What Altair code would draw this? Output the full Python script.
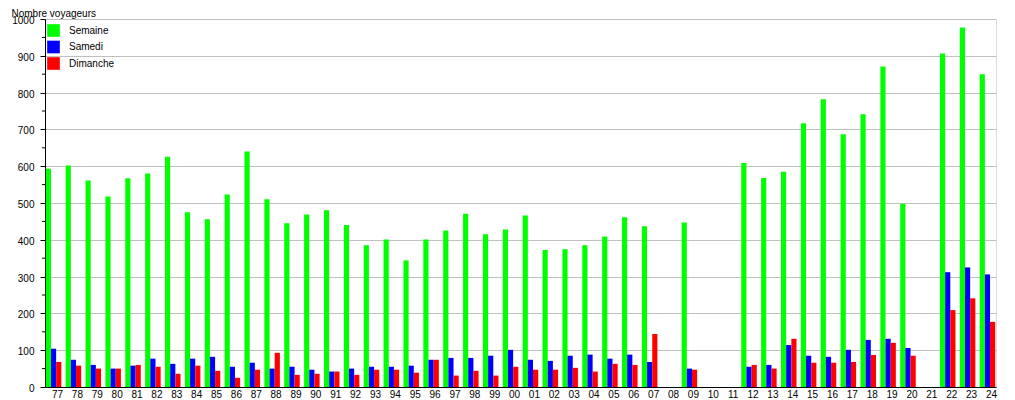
import altair as alt
import pandas as pd

years = ["77", "78", "79", "80", "81", "82", "83", "84", "85", "86", "87", "88",
         "89", "90", "91", "92", "93", "94", "95", "96", "97", "98", "99", "00",
         "01", "02", "03", "04", "05", "06", "07", "08", "09", "10", "11", "12",
         "13", "14", "15", "16", "17", "18", "19", "20", "21", "22", "23", "24"]

semaine = [593, 602, 561, 518, 567, 580, 626, 475, 456, 523, 640, 510,
           445, 469, 480, 440, 385, 401, 344, 401, 425, 471, 415, 428,
           466, 372, 374, 385, 409, 461, 437, None, 447, None, None, 609,
           568, 585, 717, 782, 687, 741, 871, 498, None, 906, 977, 850]

samedi = [104, 74, 60, 50, 58, 77, 63, 77, 82, 55, 66, 50,
          55, 47, 42, 50, 55, 55, 58, 74, 79, 79, 85, 101,
          74, 71, 85, 88, 77, 88, 68, None, 50, None, None, 55,
          60, 114, 85, 82, 101, 128, 131, 106, None, 312, 325, 306]

dimanche = [68, 58, 50, 50, 60, 55, 36, 58, 44, 25, 47, 93,
            33, 36, 42, 33, 47, 47, 39, 74, 31, 44, 31, 55,
            47, 47, 52, 42, 63, 60, 144, None, 47, None, None, 60,
            50, 131, 66, 66, 68, 87, 120, 85, None, 209, 241, 177]

series_names = ["Semaine", "Samedi", "Dimanche"]
series_colors = ["#00ff00", "#0000ff", "#ff0000"]
y_ticks = [0, 100, 200, 300, 400, 500, 600, 700, 800, 900, 1000]
minor_ticks = [50, 150, 250, 350, 450, 550, 650, 750, 850, 950]

rows = []
for name, vals in zip(series_names, [semaine, samedi, dimanche]):
    for yr, v in zip(years, vals):
        if v is not None:
            rows.append({"annee": yr, "serie": name, "valeur": v})
df = pd.DataFrame(rows)
df_minor = pd.DataFrame({"valeur": minor_ticks})

FONT = "Liberation Sans"
yscale = alt.Scale(domain=[0, 1000], nice=False, zero=True)
yaxis = alt.Axis(values=y_ticks, format="d", labelOverlap=False,
                 title="Nombre voyageurs", titleAngle=0,
                 titleAlign="left", titleBaseline="alphabetic",
                 titleX=-34, titleY=-2.5, titleFontSize=10,
                 titleFontWeight="normal", titleFont=FONT,
                 titleColor="#000000", labelFontSize=10, labelFont=FONT,
                 labelColor="#000000", labelPadding=6, labelOffset=1.5,
                 tickSize=5, tickColor="#000000", domainColor="#000000",
                 grid=True, gridColor="#c0c0c0", gridWidth=1)

bars = alt.Chart(df).mark_bar(strokeWidth=0).encode(
    x=alt.X("annee:N", sort=years,
            scale=alt.Scale(domain=years, paddingInner=0.22, paddingOuter=0.04),
            axis=alt.Axis(title=None, ticks=False, tickSize=0, labelAngle=0,
                          labelPadding=2, labelOffset=4, labelFontSize=10,
                          labelColor="#000000", labelFont=FONT, labelOverlap=False,
                          domainColor="#000000", grid=False, labelBaseline="top")),
    xOffset=alt.XOffset("serie:N", sort=series_names,
                        scale=alt.Scale(domain=series_names, paddingInner=0, paddingOuter=0)),
    y=alt.Y("valeur:Q", scale=yscale, axis=yaxis),
    color=alt.Color("serie:N", sort=series_names,
                    scale=alt.Scale(domain=series_names, range=series_colors),
                    legend=alt.Legend(title=None, orient="none", legendX=2, legendY=5,
                                      symbolType="square", symbolSize=160,
                                      symbolStrokeWidth=0, labelFontSize=10,
                                      labelFont=FONT, labelColor="#000000",
                                      labelOffset=9, rowPadding=3.5, padding=0)),
)

minor = alt.Chart(df_minor).mark_rule(color="#000000", strokeWidth=1).encode(
    y=alt.Y("valeur:Q", scale=yscale, axis=yaxis),
    x=alt.value(-3),
    x2=alt.value(0),
)

chart = alt.layer(bars, minor).properties(
    width=951, height=368,
    autosize=alt.AutoSizeParams(type="none"),
    padding={"left": 37, "top": 11, "right": 10, "bottom": 14},
).configure_view(stroke=None).configure(font=FONT)

chart.save("out.html", embed_options={"renderer": "svg", "actions": False})
